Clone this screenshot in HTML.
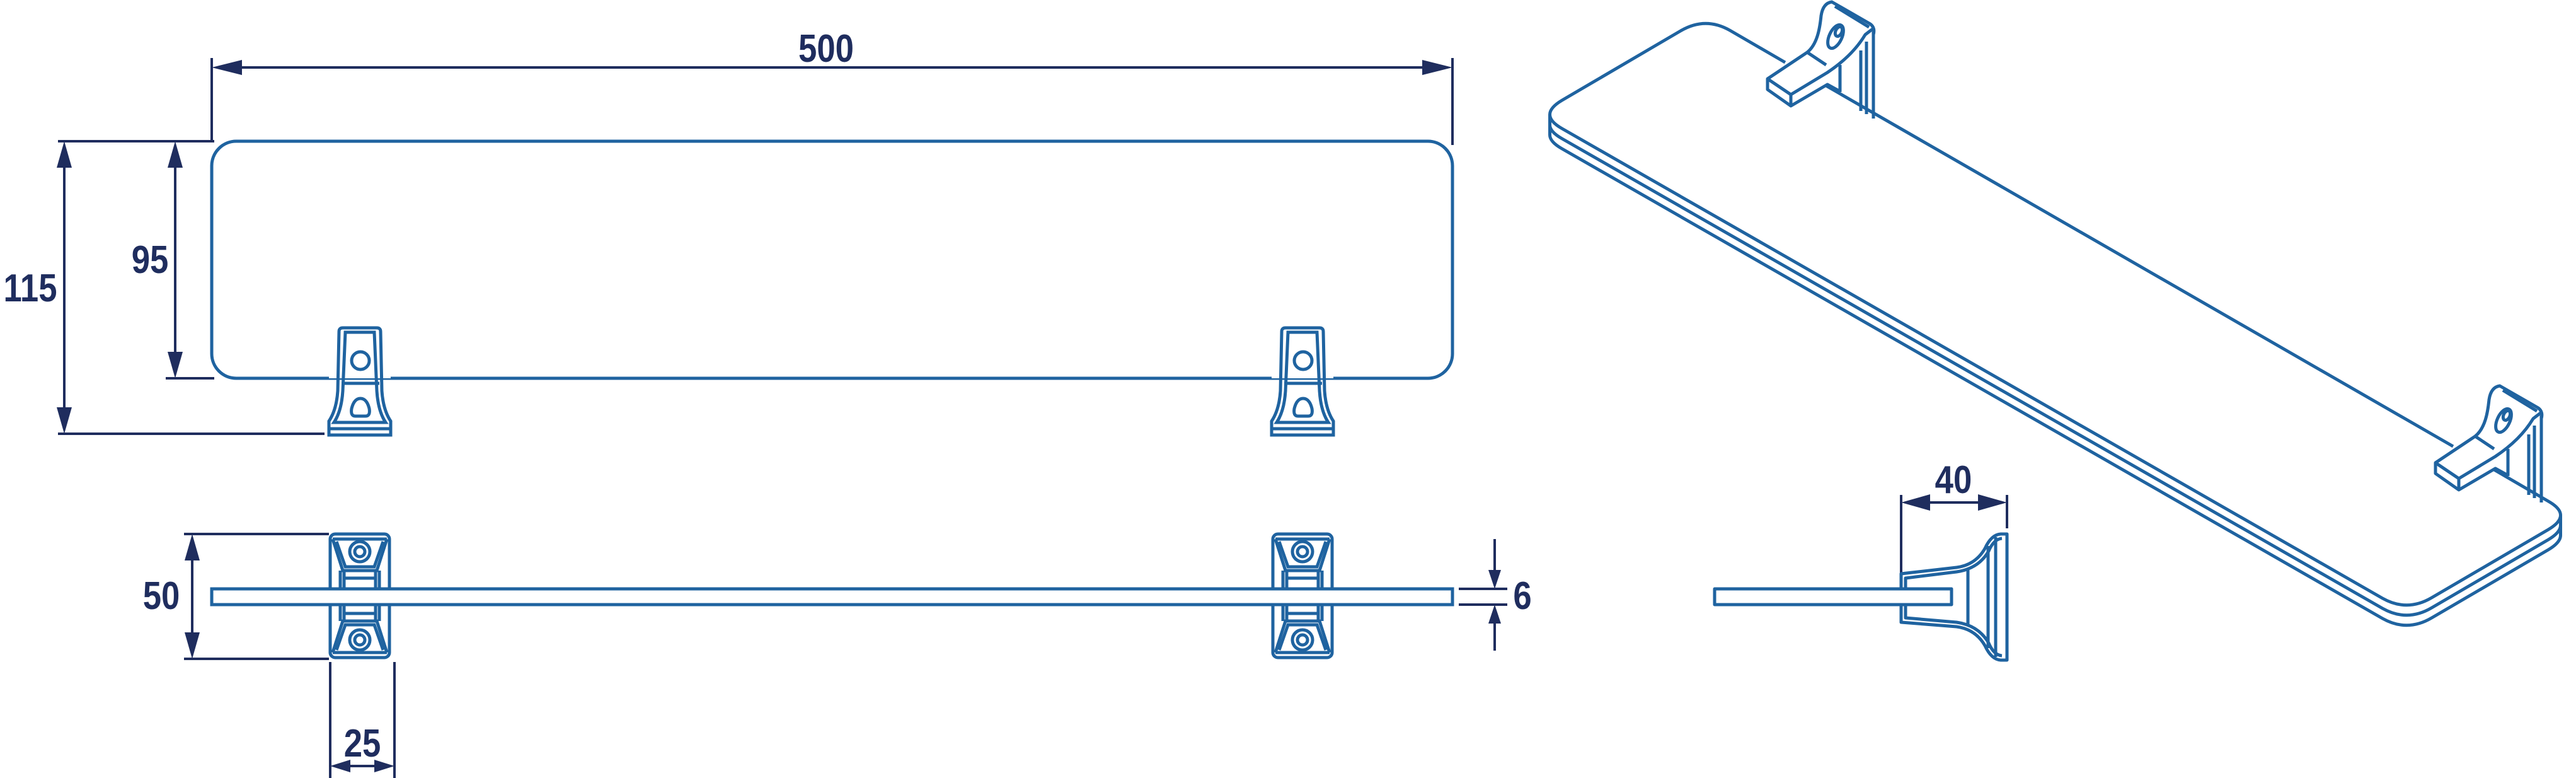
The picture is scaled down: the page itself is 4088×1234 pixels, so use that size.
<!DOCTYPE html>
<html><head><meta charset="utf-8"><style>
html,body{margin:0;padding:0;background:#fff}
svg{display:block}
text{font-family:"Liberation Sans",sans-serif;font-weight:bold;fill:#1f2d5e}
</style></head><body>
<svg width="4088" height="1234" viewBox="0 0 4088 1234" xmlns="http://www.w3.org/2000/svg">
<defs>
<g id="fb" fill="none" stroke="#1f63a0" stroke-width="5">
  <path d="M22,0 L76,0 Q82,0 82,6 L84,100 Q86,130 98,148 L98,170 L0,170 L0,148 Q12,130 14,100 L16,6 Q16,0 22,0 Z"/>
  <path d="M26,7 L72,7 L76,100 Q78,132 90,150 L8,150 Q20,132 22,100 Z"/>
  <circle cx="50" cy="52" r="14"/>
  <line x1="20" y1="88" x2="80" y2="88"/>
  <path d="M50,112 Q40,112 36,128 Q34,140 42,140 L58,140 Q66,140 64,128 Q60,112 50,112 Z"/>
  <line x1="2" y1="160" x2="96" y2="160"/>
</g>
<g id="tbh" fill="none" stroke="#1f63a0" stroke-width="5">
  <path d="M6,10 L22,60 L76,60 L92,10"/>
  <path d="M12,14 L26,54 L72,54 L86,14"/>
  <line x1="6" y1="10" x2="92" y2="10"/>
  <circle cx="49" cy="30" r="16"/><circle cx="49" cy="30" r="8"/>
  <line x1="18" y1="60" x2="18" y2="88"/><line x1="24" y1="60" x2="24" y2="88"/>
  <line x1="74" y1="60" x2="74" y2="88"/><line x1="80" y1="60" x2="80" y2="88"/>
  <line x1="24" y1="72" x2="74" y2="72"/>
</g>
<g id="tb">
  <rect x="2" y="2" width="94" height="196" rx="8" fill="none" stroke="#1f63a0" stroke-width="5"/>
  <use href="#tbh"/>
  <use href="#tbh" transform="translate(0,200) scale(1,-1)"/>
</g>
<g id="ib" fill="none" stroke="#1f63a0" stroke-width="5" stroke-linejoin="round">
  <path d="M2805,125 L2842,150 L2842,168 L2805,142 Z"/>
  <path d="M2805,125 L2868,83 C2884,70 2888,45 2890,25 Q2893,5 2907,3 L2968,38 Q2976,44 2973,55"/>
  <path d="M2842,150 L2900,115 C2930,95 2948,75 2960,55 L2973,45"/>
  <path d="M2842,168 L2900,134 L2920,145"/>
  <line x1="2868" y1="83" x2="2898" y2="103"/>
  <line x1="2912" y1="10" x2="2966" y2="43"/>
  <line x1="2953" y1="80" x2="2953" y2="176"/>
  <line x1="2962" y1="66" x2="2962" y2="181"/>
  <line x1="2973" y1="50" x2="2973" y2="188"/>
  <line x1="2920" y1="103" x2="2920" y2="146"/>
  <ellipse cx="2913" cy="58" rx="10" ry="20" transform="rotate(25 2913 58)"/>
  <ellipse cx="2918" cy="50" rx="5" ry="8" transform="rotate(25 2918 50)"/>
</g>
</defs>

<!-- FRONT VIEW -->
<rect x="336" y="224" width="1969" height="376" rx="39" fill="none" stroke="#1f63a0" stroke-width="5"/>
<rect x="522" y="520" width="98" height="80" fill="#fff"/>
<rect x="2018" y="520" width="98" height="80" fill="#fff"/>
<use href="#fb" transform="translate(522,520)"/>
<use href="#fb" transform="translate(2018,520)"/>

<g stroke="#1f2d5e" stroke-width="4" fill="none">
  <line x1="336" y1="92" x2="336" y2="224"/><line x1="2305" y1="92" x2="2305" y2="230"/>
  <line x1="380" y1="107" x2="2260" y2="107"/>
  <line x1="92" y1="224" x2="340" y2="224"/><line x1="92" y1="688" x2="515" y2="688"/>
  <line x1="102" y1="260" x2="102" y2="652"/>
  <line x1="263" y1="600" x2="340" y2="600"/>
  <line x1="278" y1="260" x2="278" y2="564"/>
  <line x1="292" y1="847" x2="522" y2="847"/><line x1="292" y1="1045" x2="522" y2="1045"/>
  <line x1="305" y1="880" x2="305" y2="1010"/>
  <line x1="524" y1="1050" x2="524" y2="1234"/><line x1="626" y1="1050" x2="626" y2="1234"/>
  <line x1="540" y1="1215" x2="610" y2="1215"/>
  <line x1="2315" y1="934" x2="2392" y2="934"/><line x1="2315" y1="959" x2="2392" y2="959"/>
  <line x1="2372" y1="855" x2="2372" y2="910"/><line x1="2372" y1="983" x2="2372" y2="1032"/>
  <line x1="3017" y1="785" x2="3017" y2="922"/><line x1="3185" y1="785" x2="3185" y2="838"/>
  <line x1="3055" y1="797" x2="3150" y2="797"/>
</g>
<g fill="#1f2d5e">
  <polygon points="336,107 384,95 384,119"/><polygon points="2305,107 2257,95 2257,119"/>
  <polygon points="102,224 90,266 114,266"/><polygon points="102,688 90,646 114,646"/>
  <polygon points="278,224 266,266 290,266"/><polygon points="278,600 266,558 290,558"/>
  <polygon points="305,847 293,889 317,889"/><polygon points="305,1045 293,1003 317,1003"/>
  <polygon points="524,1215 556,1205 556,1225"/><polygon points="626,1215 594,1205 594,1225"/>
  <polygon points="2372,934 2362,904 2382,904"/><polygon points="2372,959 2362,989 2382,989"/>
  <polygon points="3017,797 3063,784 3063,810"/><polygon points="3185,797 3139,784 3139,810"/>
</g>
<g font-size="62">
  <text x="1311" y="98" text-anchor="middle" transform="translate(1311 0) scale(0.85 1) translate(-1311 0)">500</text>
  <text x="48" y="478" text-anchor="middle" transform="translate(48 0) scale(0.85 1) translate(-48 0)">115</text>
  <text x="238" y="433" text-anchor="middle" transform="translate(238 0) scale(0.85 1) translate(-238 0)">95</text>
  <text x="256" y="966" text-anchor="middle" transform="translate(256 0) scale(0.85 1) translate(-256 0)">50</text>
  <text x="575" y="1200" text-anchor="middle" transform="translate(575 0) scale(0.85 1) translate(-575 0)">25</text>
  <text x="2416" y="966" text-anchor="middle" transform="translate(2416 0) scale(0.85 1) translate(-2416 0)">6</text>
  <text x="3100" y="782" text-anchor="middle" transform="translate(3100 0) scale(0.85 1) translate(-3100 0)">40</text>
</g>

<!-- TOP VIEW -->
<use href="#tb" transform="translate(522,845)"/>
<use href="#tb" transform="translate(2018,845)"/>
<rect x="336" y="934" width="1969" height="25" fill="#fff" stroke="#1f63a0" stroke-width="5"/>

<!-- SIDE VIEW -->
<g fill="none" stroke="#1f63a0" stroke-width="5" stroke-linejoin="round">
  <path d="M3097,934 L3017,934 L3017,910 L3105,900 Q3135,896 3150,870 Q3160,848 3175,847 L3185,847 L3185,1047 L3175,1047 Q3160,1046 3150,1024 Q3135,998 3105,994 L3017,987 L3017,959 L3097,959"/>
  <path d="M3024,934 L3024,917 L3105,907 Q3140,902 3156,874 Q3164,855 3177,854"/>
  <path d="M3024,959 L3024,980 L3105,987 Q3140,992 3156,1020 Q3164,1039 3177,1040"/>
  <line x1="3123" y1="902" x2="3123" y2="992"/>
  <line x1="3155" y1="866" x2="3155" y2="1028"/>
  <line x1="3167" y1="852" x2="3167" y2="1042"/>
  <rect x="2721" y="934" width="376" height="25" fill="#fff"/>
</g>

<!-- ISO VIEW -->
<g fill="none" stroke="#1f63a0" stroke-width="5" stroke-linejoin="round">
  <path d="M2745,48 L2833,99 M2898,136 L3893,708 M3958,745 L4044,795 Q4083,817 4044,840 L3859,948 Q3820,971 3781,949 L2479,204 Q2440,182 2479,159 L2667,49 Q2706,26 2745,48"/>
  <path d="M2459.5,182 L2459.5,198 Q2459.5,209 2479,220 L3781,965 Q3820,987 3859,964 L4044,856 Q4063.5,844.5 4063.5,833 L4063.5,817"/>
  <path d="M2459.5,198 L2459.5,214 Q2459.5,225 2479,236 L3781,981 Q3820,1003 3859,980 L4044,872 Q4063.5,860.5 4063.5,849 L4063.5,833"/>
</g>
<use href="#ib"/>
<use href="#ib" transform="translate(1060,609)"/>
</svg>
</body></html>
